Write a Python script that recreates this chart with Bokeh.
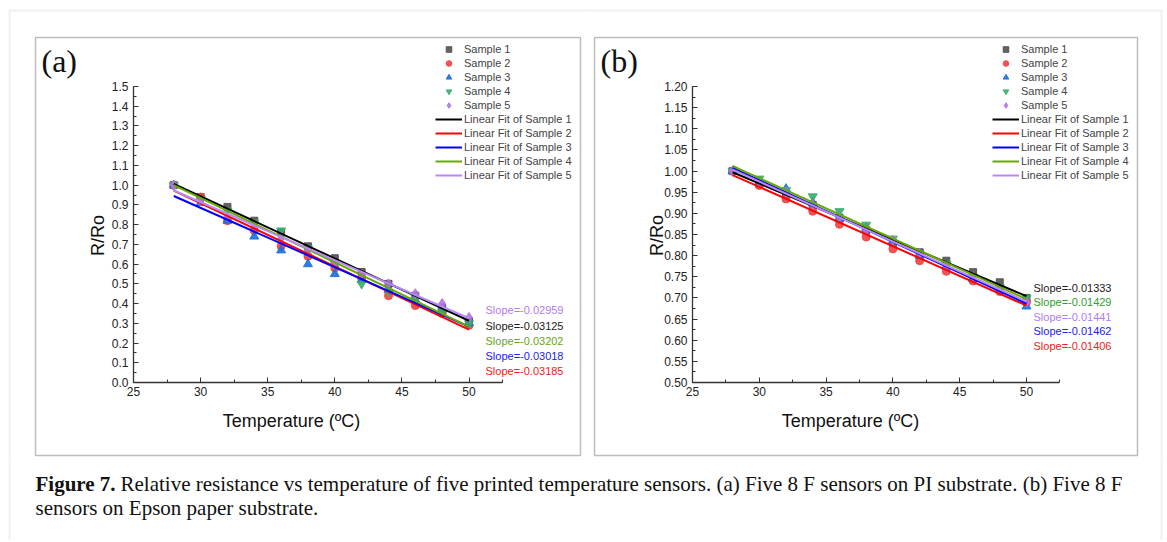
import numpy as np
from bokeh.plotting import figure
from bokeh.models import (Range1d, SingleIntervalTicker, NumeralTickFormatter, Legend,
                          LegendItem, Label, BoxAnnotation)
from bokeh.layouts import column, row
from bokeh.embed import file_html
from bokeh.resources import INLINE

# ---------------- data ----------------
temps = [28, 30, 32, 34, 36, 38, 40, 42, 44, 46, 48, 50]
sample_names = ["Sample 1", "Sample 2", "Sample 3", "Sample 4", "Sample 5"]
fit_names = ["Linear Fit of Sample 1", "Linear Fit of Sample 2", "Linear Fit of Sample 3",
             "Linear Fit of Sample 4", "Linear Fit of Sample 5"]

# (a) PI substrate
a_s1 = [1.00, 0.94, 0.89, 0.82, 0.76, 0.69, 0.63, 0.56, 0.50, 0.44, 0.38, 0.31]
a_s2 = [1.00, 0.94, 0.82, 0.77, 0.69, 0.64, 0.58, 0.53, 0.44, 0.39, 0.35, 0.29]
a_s3 = [1.00, 0.91, 0.82, 0.74, 0.67, 0.60, 0.55, 0.52, 0.47, 0.42, 0.37, 0.30]
a_s4 = [1.00, 0.93, 0.87, 0.81, 0.77, 0.68, 0.60, 0.50, 0.46, 0.42, 0.36, 0.30]
a_s5 = [1.00, 0.92, 0.84, 0.79, 0.73, 0.67, 0.61, 0.55, 0.50, 0.45, 0.40, 0.33]
a_slope_texts = ["Slope=-0.02959", "Slope=-0.03125", "Slope=-0.03202", "Slope=-0.03018", "Slope=-0.03185"]

# (b) Epson paper substrate
b_s1 = [1.00, 0.970, 0.945, 0.920, 0.890, 0.860, 0.830, 0.808, 0.788, 0.761, 0.737, 0.700]
b_s2 = [1.00, 0.966, 0.934, 0.905, 0.874, 0.844, 0.816, 0.788, 0.763, 0.740, 0.715, 0.690]
b_s3 = [1.00, 0.975, 0.958, 0.925, 0.887, 0.865, 0.835, 0.800, 0.775, 0.745, 0.720, 0.680]
b_s4 = [1.00, 0.982, 0.955, 0.940, 0.905, 0.873, 0.840, 0.805, 0.780, 0.750, 0.725, 0.700]
b_s5 = [1.00, 0.975, 0.950, 0.920, 0.890, 0.860, 0.836, 0.805, 0.775, 0.750, 0.720, 0.690]
b_slope_texts = ["Slope=-0.01333", "Slope=-0.01429", "Slope=-0.01441", "Slope=-0.01462", "Slope=-0.01406"]

x_title = "Temperature (ºC)"
y_title = "R/Ro"
caption_bold = "Figure 7."
caption_line1 = ("Relative resistance vs temperature of five printed temperature sensors. "
                 "(a) Five 8 F sensors on PI substrate. (b) Five 8 F")
caption_line2 = "sensors on Epson paper substrate."

# ---------------- styles / layout ----------------
MARKERS = ["square", "circle", "triangle", "inverted_triangle", "diamond"]
MSIZES = [7, 8, 9, 9, 10]
MCOLORS = ["#515151", "#F14040", "#1A6FDF", "#37AD6B", "#B177DE"]
FCOLORS = ["#000000", "#FF0000", "#0000FF", "#66AA00", "#B889F5"]
A_SLOPE_COLORS = ["#B07CF0", "#1A1A1A", "#6BA320", "#1A1AF5", "#F52020"]
B_SLOPE_COLORS = ["#1A1A1A", "#2CA02C", "#B07CF0", "#2020F0", "#F52020"]
SANS = "Liberation Sans"
SERIF = "Liberation Serif"

TOTAL_W = 1163
PANEL_H = 462
CAP_H = 78
SPLIT = 587


class Mapper:
    """pixel (picture) -> data coordinates for a panel whose frame fills its canvas"""
    def __init__(self, cx0, cy0, w, h, x0, px_x0, sx, y0, px_y0, sy):
        self.cx0, self.cy0, self.w, self.h = cx0, cy0, w, h
        self.x0, self.px_x0, self.sx = x0, px_x0, sx
        self.y0, self.px_y0, self.sy = y0, px_y0, sy

    def x(self, px):
        return self.x0 + (px - self.px_x0) / self.sx

    def y(self, py):
        return self.y0 + (self.px_y0 - py) / self.sy


def make_panel(m, series, ylim, yint, yfmt, slope_texts, slope_colors, slope_px, slope_pys,
               tag, leg_left, leg_bottom, box_px, gray):
    p = figure(width=m.w, height=m.h,
               x_range=Range1d(m.x(m.cx0), m.x(m.cx0 + m.w)),
               y_range=Range1d(m.y(m.cy0 + m.h), m.y(m.cy0)),
               output_backend="svg", toolbar_location=None, min_border=0)
    p.outline_line_color = None
    p.grid.visible = False
    p.background_fill_color = "white"
    p.border_fill_color = "white"

    p.xaxis.fixed_location = ylim[0]
    p.yaxis.fixed_location = 25
    p.xaxis.bounds = (25, 52.5)
    p.yaxis.bounds = (ylim[0], ylim[1] + 1e-9)
    p.xaxis.ticker = SingleIntervalTicker(interval=5, num_minor_ticks=2)
    p.yaxis.ticker = SingleIntervalTicker(interval=yint, num_minor_ticks=2)
    p.yaxis.formatter = NumeralTickFormatter(format=yfmt)
    for ax in (p.xaxis, p.yaxis):
        ax.axis_line_color = "#333333"
        ax.axis_line_width = 1.3
        ax.major_tick_line_color = "#333333"
        ax.minor_tick_line_color = "#333333"
        ax.major_tick_in = 5
        ax.major_tick_out = 0
        ax.minor_tick_in = 3
        ax.minor_tick_out = 0
        ax.major_label_text_font = SANS
        ax.major_label_text_font_size = "12px"
        ax.major_label_text_color = "#222222"
    p.xaxis.major_label_standoff = 4
    p.yaxis.major_label_standoff = 5

    sc_r = []
    for i, ys in enumerate(series):
        r = p.scatter(temps, ys, marker=MARKERS[i], size=MSIZES[i], fill_color=MCOLORS[i],
                      line_color=MCOLORS[i], fill_alpha=0.9, line_alpha=0.9)
        sc_r.append(r)
    fit_r = []
    for i, ys in enumerate(series):
        k, b = np.polyfit(temps, ys, 1)
        xs = [temps[0], temps[-1]]
        r = p.line(xs, [k * xs[0] + b, k * xs[1] + b], line_color=FCOLORS[i], line_width=2)
        fit_r.append(r)

    items = [LegendItem(label=sample_names[i], renderers=[sc_r[i]]) for i in range(5)]
    items += [LegendItem(label=fit_names[i], renderers=[fit_r[i]]) for i in range(5)]
    leg = Legend(items=items, location=(leg_left - m.cx0, m.cy0 + m.h - leg_bottom),
                 padding=2, spacing=0, margin=0,
                 glyph_width=27, glyph_height=14, label_height=14, label_standoff=2,
                 label_text_font=SANS, label_text_font_size="11px",
                 border_line_alpha=0, background_fill_alpha=0)
    p.add_layout(leg, "center")

    for txt, col, py in zip(slope_texts, slope_colors, slope_pys):
        p.add_layout(Label(x=m.x(slope_px), y=m.y(py), text=txt,
                           text_color=col, text_font=SANS, text_font_size="11px",
                           text_baseline="middle"))

    p.add_layout(Label(x=m.x(box_px[0] + 256), y=m.y(420), text=x_title,
                       text_font=SANS, text_font_size="18px", text_align="center",
                       text_baseline="middle", text_color="#111111"))
    p.add_layout(Label(x=m.x(box_px[0] + 62), y=m.y(235), text=y_title,
                       text_font=SANS, text_font_size="18px", text_align="center",
                       text_baseline="middle", angle=np.pi / 2, text_color="#111111"))
    p.add_layout(Label(x=m.x(box_px[0] + 6), y=m.y(60), text=tag,
                       text_font=SERIF, text_font_size="32px", text_baseline="middle",
                       text_color="#111111"))

    # panel box
    l, t, r, b = box_px
    p.add_layout(BoxAnnotation(left=m.x(l), right=m.x(r), top=m.y(t), bottom=m.y(b),
                               fill_alpha=0, line_color="#222222", line_width=1.5,
                               level="overlay"))
    # light-gray outer frame (portion within this panel)
    gl, gt, gr = gray
    p.add_layout(BoxAnnotation(left=m.x(gl), right=m.x(gr), top=m.y(gt), bottom=m.y(3000),
                               fill_alpha=0, line_color="#CCCCCC", line_width=2,
                               level="overlay"))
    return p


ma = Mapper(0, 0, SPLIT, PANEL_H, 25, 133, 13.42, 0.0, 382, 197.33)
mb = Mapper(SPLIT, 0, TOTAL_W - SPLIT, PANEL_H, 25, 692, 13.36, 0.5, 382, 422.86)

pa = make_panel(ma, [a_s1, a_s2, a_s3, a_s4, a_s5], (0, 1.5), 0.1, "0.0", a_slope_texts,
                A_SLOPE_COLORS, 485, [309, 325, 340, 355, 370], "(a)", 433, 184,
                (35, 37, 580, 455), (9, 10, 3000))
pb = make_panel(mb, [b_s1, b_s2, b_s3, b_s4, b_s5], (0.5, 1.2), 0.05, "0.00", b_slope_texts,
                B_SLOPE_COLORS, 1033, [287, 301, 316, 330, 345], "(b)", 990, 184,
                (594, 37, 1137, 455), (-3000, 10, 1161))

cap = figure(width=TOTAL_W, height=CAP_H, x_range=Range1d(0, TOTAL_W),
             y_range=Range1d(PANEL_H + CAP_H, PANEL_H),
             output_backend="svg", toolbar_location=None, min_border=0,
             x_axis_location=None, y_axis_location=None)
cap.outline_line_color = None
cap.grid.visible = False
cap.add_layout(BoxAnnotation(left=9, right=1161, top=-3000, bottom=3000, fill_alpha=0,
                             line_color="#CCCCCC", line_width=2, level="overlay"))
cap.add_layout(Label(x=35, y=495, text=caption_bold, text_font=SERIF, text_font_size="21px",
                     text_font_style="bold", text_color="#111111"))
cap.add_layout(Label(x=120, y=495, text=caption_line1, text_font=SERIF, text_font_size="21px",
                     text_color="#111111"))
cap.add_layout(Label(x=35, y=519, text=caption_line2, text_font=SERIF, text_font_size="21px",
                     text_color="#111111"))

layout = column(row(pa, pb), cap)
open("out.html", "w").write(file_html(layout, INLINE))
